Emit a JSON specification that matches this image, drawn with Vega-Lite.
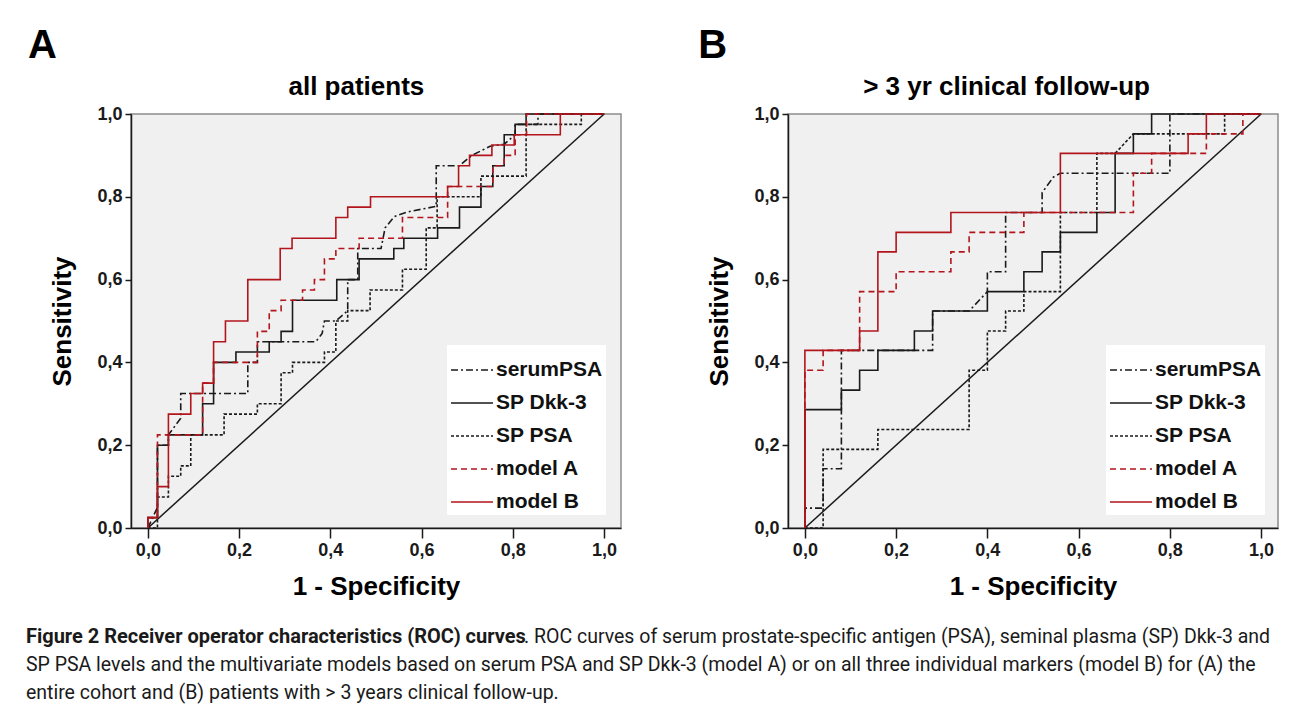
{
  "$schema": "https://vega.github.io/schema/vega-lite/v6.json",
  "background": "white",
  "padding": {"left": 25, "top": 25, "right": 5, "bottom": 2},
  "config": {
    "font": "Liberation Sans",
    "view": {"fill": "#f0f0f0", "stroke": "#8c8c8c", "strokeWidth": 1.5},
    "axis": {"domainColor": "#1a1a1a", "domainWidth": 1.5, "tickColor": "#1a1a1a", "tickWidth": 1.5, "grid": false, "labelFont": "Liberation Sans", "labelFontWeight": "bold", "labelFontSize": 18, "labelColor": "#1a1a1a", "titleFont": "Liberation Sans", "titleFontSize": 26, "titleFontWeight": "bold", "titleColor": "#000000"},
    "legend": {"orient": "none", "legendY": 231, "fillColor": "white", "padding": 3, "labelFont": "Liberation Sans", "labelFontSize": 21, "labelFontWeight": "bold", "labelColor": "#111111", "symbolType": "stroke", "symbolSize": 1764, "rowPadding": 1, "labelOffset": 2}
  },
  "datasets": {
    "rocA": [
      {"s":"serumPSA","i":0,"x":0,"y":0},{"s":"serumPSA","i":1,"x":0.021,"y":0.05},{"s":"serumPSA","i":2,"x":0.021,"y":0.2},{"s":"serumPSA","i":3,"x":0.045,"y":0.2},{"s":"serumPSA","i":4,"x":0.045,"y":0.225},{"s":"serumPSA","i":5,"x":0.072,"y":0.265},{"s":"serumPSA","i":6,"x":0.072,"y":0.325},{"s":"serumPSA","i":7,"x":0.219,"y":0.325},{"s":"serumPSA","i":8,"x":0.219,"y":0.4},{"s":"serumPSA","i":9,"x":0.24,"y":0.4},{"s":"serumPSA","i":10,"x":0.24,"y":0.45},{"s":"serumPSA","i":11,"x":0.368,"y":0.45},{"s":"serumPSA","i":12,"x":0.382,"y":0.47},{"s":"serumPSA","i":13,"x":0.387,"y":0.5},{"s":"serumPSA","i":14,"x":0.412,"y":0.5},{"s":"serumPSA","i":15,"x":0.438,"y":0.525},{"s":"serumPSA","i":16,"x":0.438,"y":0.6},{"s":"serumPSA","i":17,"x":0.46,"y":0.6},{"s":"serumPSA","i":18,"x":0.46,"y":0.675},{"s":"serumPSA","i":19,"x":0.511,"y":0.675},{"s":"serumPSA","i":20,"x":0.52,"y":0.725},{"s":"serumPSA","i":21,"x":0.54,"y":0.752},{"s":"serumPSA","i":22,"x":0.567,"y":0.763},{"s":"serumPSA","i":23,"x":0.632,"y":0.777},{"s":"serumPSA","i":24,"x":0.632,"y":0.875},{"s":"serumPSA","i":25,"x":0.683,"y":0.875},{"s":"serumPSA","i":26,"x":0.71,"y":0.9},{"s":"serumPSA","i":27,"x":0.75,"y":0.922},{"s":"serumPSA","i":28,"x":0.781,"y":0.927},{"s":"serumPSA","i":29,"x":0.805,"y":0.95},{"s":"serumPSA","i":30,"x":0.805,"y":0.975},{"s":"serumPSA","i":31,"x":0.855,"y":0.975},{"s":"serumPSA","i":32,"x":0.855,"y":1},{"s":"serumPSA","i":33,"x":1,"y":1},
      {"s":"SP Dkk-3","i":0,"x":0,"y":0},{"s":"SP Dkk-3","i":1,"x":0,"y":0.025},{"s":"SP Dkk-3","i":2,"x":0.021,"y":0.025},{"s":"SP Dkk-3","i":3,"x":0.021,"y":0.2},{"s":"SP Dkk-3","i":4,"x":0.045,"y":0.2},{"s":"SP Dkk-3","i":5,"x":0.045,"y":0.225},{"s":"SP Dkk-3","i":6,"x":0.12,"y":0.225},{"s":"SP Dkk-3","i":7,"x":0.12,"y":0.3},{"s":"SP Dkk-3","i":8,"x":0.144,"y":0.3},{"s":"SP Dkk-3","i":9,"x":0.144,"y":0.4},{"s":"SP Dkk-3","i":10,"x":0.193,"y":0.4},{"s":"SP Dkk-3","i":11,"x":0.193,"y":0.425},{"s":"SP Dkk-3","i":12,"x":0.266,"y":0.425},{"s":"SP Dkk-3","i":13,"x":0.266,"y":0.45},{"s":"SP Dkk-3","i":14,"x":0.292,"y":0.45},{"s":"SP Dkk-3","i":15,"x":0.292,"y":0.475},{"s":"SP Dkk-3","i":16,"x":0.317,"y":0.475},{"s":"SP Dkk-3","i":17,"x":0.317,"y":0.55},{"s":"SP Dkk-3","i":18,"x":0.414,"y":0.55},{"s":"SP Dkk-3","i":19,"x":0.414,"y":0.6},{"s":"SP Dkk-3","i":20,"x":0.463,"y":0.6},{"s":"SP Dkk-3","i":21,"x":0.463,"y":0.65},{"s":"SP Dkk-3","i":22,"x":0.539,"y":0.65},{"s":"SP Dkk-3","i":23,"x":0.539,"y":0.675},{"s":"SP Dkk-3","i":24,"x":0.561,"y":0.675},{"s":"SP Dkk-3","i":25,"x":0.561,"y":0.7},{"s":"SP Dkk-3","i":26,"x":0.635,"y":0.7},{"s":"SP Dkk-3","i":27,"x":0.635,"y":0.725},{"s":"SP Dkk-3","i":28,"x":0.683,"y":0.725},{"s":"SP Dkk-3","i":29,"x":0.683,"y":0.775},{"s":"SP Dkk-3","i":30,"x":0.73,"y":0.775},{"s":"SP Dkk-3","i":31,"x":0.73,"y":0.825},{"s":"SP Dkk-3","i":32,"x":0.756,"y":0.825},{"s":"SP Dkk-3","i":33,"x":0.756,"y":0.875},{"s":"SP Dkk-3","i":34,"x":0.781,"y":0.875},{"s":"SP Dkk-3","i":35,"x":0.781,"y":0.95},{"s":"SP Dkk-3","i":36,"x":0.805,"y":0.95},{"s":"SP Dkk-3","i":37,"x":0.805,"y":0.975},{"s":"SP Dkk-3","i":38,"x":0.829,"y":0.975},{"s":"SP Dkk-3","i":39,"x":0.829,"y":1},{"s":"SP Dkk-3","i":40,"x":1,"y":1},
      {"s":"SP PSA","i":0,"x":0,"y":0},{"s":"SP PSA","i":1,"x":0.021,"y":0},{"s":"SP PSA","i":2,"x":0.021,"y":0.075},{"s":"SP PSA","i":3,"x":0.045,"y":0.075},{"s":"SP PSA","i":4,"x":0.045,"y":0.125},{"s":"SP PSA","i":5,"x":0.072,"y":0.125},{"s":"SP PSA","i":6,"x":0.072,"y":0.15},{"s":"SP PSA","i":7,"x":0.094,"y":0.15},{"s":"SP PSA","i":8,"x":0.094,"y":0.225},{"s":"SP PSA","i":9,"x":0.167,"y":0.225},{"s":"SP PSA","i":10,"x":0.167,"y":0.275},{"s":"SP PSA","i":11,"x":0.24,"y":0.275},{"s":"SP PSA","i":12,"x":0.24,"y":0.3},{"s":"SP PSA","i":13,"x":0.292,"y":0.3},{"s":"SP PSA","i":14,"x":0.292,"y":0.375},{"s":"SP PSA","i":15,"x":0.317,"y":0.375},{"s":"SP PSA","i":16,"x":0.317,"y":0.4},{"s":"SP PSA","i":17,"x":0.387,"y":0.4},{"s":"SP PSA","i":18,"x":0.387,"y":0.425},{"s":"SP PSA","i":19,"x":0.412,"y":0.425},{"s":"SP PSA","i":20,"x":0.412,"y":0.5},{"s":"SP PSA","i":21,"x":0.438,"y":0.5},{"s":"SP PSA","i":22,"x":0.438,"y":0.525},{"s":"SP PSA","i":23,"x":0.487,"y":0.525},{"s":"SP PSA","i":24,"x":0.487,"y":0.575},{"s":"SP PSA","i":25,"x":0.558,"y":0.575},{"s":"SP PSA","i":26,"x":0.558,"y":0.625},{"s":"SP PSA","i":27,"x":0.61,"y":0.625},{"s":"SP PSA","i":28,"x":0.61,"y":0.725},{"s":"SP PSA","i":29,"x":0.634,"y":0.725},{"s":"SP PSA","i":30,"x":0.634,"y":0.8},{"s":"SP PSA","i":31,"x":0.73,"y":0.8},{"s":"SP PSA","i":32,"x":0.73,"y":0.85},{"s":"SP PSA","i":33,"x":0.829,"y":0.85},{"s":"SP PSA","i":34,"x":0.829,"y":0.975},{"s":"SP PSA","i":35,"x":0.95,"y":0.975},{"s":"SP PSA","i":36,"x":0.95,"y":1},{"s":"SP PSA","i":37,"x":1,"y":1},
      {"s":"model A","i":0,"x":0,"y":0},{"s":"model A","i":1,"x":0,"y":0.025},{"s":"model A","i":2,"x":0.021,"y":0.025},{"s":"model A","i":3,"x":0.021,"y":0.225},{"s":"model A","i":4,"x":0.12,"y":0.225},{"s":"model A","i":5,"x":0.12,"y":0.35},{"s":"model A","i":6,"x":0.144,"y":0.35},{"s":"model A","i":7,"x":0.144,"y":0.4},{"s":"model A","i":8,"x":0.24,"y":0.4},{"s":"model A","i":9,"x":0.24,"y":0.475},{"s":"model A","i":10,"x":0.266,"y":0.475},{"s":"model A","i":11,"x":0.266,"y":0.525},{"s":"model A","i":12,"x":0.292,"y":0.525},{"s":"model A","i":13,"x":0.292,"y":0.55},{"s":"model A","i":14,"x":0.339,"y":0.55},{"s":"model A","i":15,"x":0.339,"y":0.575},{"s":"model A","i":16,"x":0.365,"y":0.575},{"s":"model A","i":17,"x":0.365,"y":0.6},{"s":"model A","i":18,"x":0.387,"y":0.6},{"s":"model A","i":19,"x":0.387,"y":0.65},{"s":"model A","i":20,"x":0.412,"y":0.65},{"s":"model A","i":21,"x":0.412,"y":0.675},{"s":"model A","i":22,"x":0.463,"y":0.675},{"s":"model A","i":23,"x":0.463,"y":0.7},{"s":"model A","i":24,"x":0.558,"y":0.7},{"s":"model A","i":25,"x":0.558,"y":0.75},{"s":"model A","i":26,"x":0.657,"y":0.75},{"s":"model A","i":27,"x":0.657,"y":0.825},{"s":"model A","i":28,"x":0.756,"y":0.825},{"s":"model A","i":29,"x":0.756,"y":0.875},{"s":"model A","i":30,"x":0.781,"y":0.875},{"s":"model A","i":31,"x":0.781,"y":0.9},{"s":"model A","i":32,"x":0.805,"y":0.9},{"s":"model A","i":33,"x":0.805,"y":0.95},{"s":"model A","i":34,"x":0.83,"y":0.95},{"s":"model A","i":35,"x":0.83,"y":1},{"s":"model A","i":36,"x":1,"y":1},
      {"s":"model B","i":0,"x":0,"y":0},{"s":"model B","i":1,"x":0,"y":0.025},{"s":"model B","i":2,"x":0.021,"y":0.025},{"s":"model B","i":3,"x":0.021,"y":0.1},{"s":"model B","i":4,"x":0.045,"y":0.1},{"s":"model B","i":5,"x":0.045,"y":0.275},{"s":"model B","i":6,"x":0.094,"y":0.275},{"s":"model B","i":7,"x":0.094,"y":0.325},{"s":"model B","i":8,"x":0.12,"y":0.325},{"s":"model B","i":9,"x":0.12,"y":0.35},{"s":"model B","i":10,"x":0.144,"y":0.35},{"s":"model B","i":11,"x":0.144,"y":0.45},{"s":"model B","i":12,"x":0.17,"y":0.45},{"s":"model B","i":13,"x":0.17,"y":0.5},{"s":"model B","i":14,"x":0.219,"y":0.5},{"s":"model B","i":15,"x":0.219,"y":0.6},{"s":"model B","i":16,"x":0.29,"y":0.6},{"s":"model B","i":17,"x":0.29,"y":0.675},{"s":"model B","i":18,"x":0.316,"y":0.675},{"s":"model B","i":19,"x":0.316,"y":0.7},{"s":"model B","i":20,"x":0.412,"y":0.7},{"s":"model B","i":21,"x":0.412,"y":0.75},{"s":"model B","i":22,"x":0.438,"y":0.75},{"s":"model B","i":23,"x":0.438,"y":0.775},{"s":"model B","i":24,"x":0.488,"y":0.775},{"s":"model B","i":25,"x":0.488,"y":0.8},{"s":"model B","i":26,"x":0.657,"y":0.8},{"s":"model B","i":27,"x":0.657,"y":0.825},{"s":"model B","i":28,"x":0.681,"y":0.825},{"s":"model B","i":29,"x":0.681,"y":0.875},{"s":"model B","i":30,"x":0.705,"y":0.875},{"s":"model B","i":31,"x":0.705,"y":0.9},{"s":"model B","i":32,"x":0.754,"y":0.9},{"s":"model B","i":33,"x":0.754,"y":0.925},{"s":"model B","i":34,"x":0.803,"y":0.925},{"s":"model B","i":35,"x":0.803,"y":0.95},{"s":"model B","i":36,"x":0.904,"y":0.95},{"s":"model B","i":37,"x":0.904,"y":1},{"s":"model B","i":38,"x":1,"y":1}
    ],
    "rocB": [
      {"s":"serumPSA","i":0,"x":0,"y":0},{"s":"serumPSA","i":1,"x":0,"y":0.048},{"s":"serumPSA","i":2,"x":0.04,"y":0.048},{"s":"serumPSA","i":3,"x":0.04,"y":0.143},{"s":"serumPSA","i":4,"x":0.08,"y":0.143},{"s":"serumPSA","i":5,"x":0.08,"y":0.429},{"s":"serumPSA","i":6,"x":0.28,"y":0.429},{"s":"serumPSA","i":7,"x":0.28,"y":0.524},{"s":"serumPSA","i":8,"x":0.36,"y":0.524},{"s":"serumPSA","i":9,"x":0.4,"y":0.571},{"s":"serumPSA","i":10,"x":0.4,"y":0.619},{"s":"serumPSA","i":11,"x":0.44,"y":0.619},{"s":"serumPSA","i":12,"x":0.44,"y":0.762},{"s":"serumPSA","i":13,"x":0.52,"y":0.762},{"s":"serumPSA","i":14,"x":0.52,"y":0.81},{"s":"serumPSA","i":15,"x":0.545,"y":0.848},{"s":"serumPSA","i":16,"x":0.56,"y":0.857},{"s":"serumPSA","i":17,"x":0.8,"y":0.857},{"s":"serumPSA","i":18,"x":0.8,"y":1},{"s":"serumPSA","i":19,"x":1,"y":1},
      {"s":"SP Dkk-3","i":0,"x":0,"y":0},{"s":"SP Dkk-3","i":1,"x":0,"y":0.286},{"s":"SP Dkk-3","i":2,"x":0.08,"y":0.286},{"s":"SP Dkk-3","i":3,"x":0.08,"y":0.333},{"s":"SP Dkk-3","i":4,"x":0.12,"y":0.333},{"s":"SP Dkk-3","i":5,"x":0.12,"y":0.381},{"s":"SP Dkk-3","i":6,"x":0.16,"y":0.381},{"s":"SP Dkk-3","i":7,"x":0.16,"y":0.429},{"s":"SP Dkk-3","i":8,"x":0.24,"y":0.429},{"s":"SP Dkk-3","i":9,"x":0.24,"y":0.476},{"s":"SP Dkk-3","i":10,"x":0.28,"y":0.476},{"s":"SP Dkk-3","i":11,"x":0.28,"y":0.524},{"s":"SP Dkk-3","i":12,"x":0.4,"y":0.524},{"s":"SP Dkk-3","i":13,"x":0.4,"y":0.571},{"s":"SP Dkk-3","i":14,"x":0.48,"y":0.571},{"s":"SP Dkk-3","i":15,"x":0.48,"y":0.619},{"s":"SP Dkk-3","i":16,"x":0.52,"y":0.619},{"s":"SP Dkk-3","i":17,"x":0.52,"y":0.667},{"s":"SP Dkk-3","i":18,"x":0.56,"y":0.667},{"s":"SP Dkk-3","i":19,"x":0.56,"y":0.714},{"s":"SP Dkk-3","i":20,"x":0.64,"y":0.714},{"s":"SP Dkk-3","i":21,"x":0.64,"y":0.762},{"s":"SP Dkk-3","i":22,"x":0.68,"y":0.762},{"s":"SP Dkk-3","i":23,"x":0.68,"y":0.905},{"s":"SP Dkk-3","i":24,"x":0.72,"y":0.905},{"s":"SP Dkk-3","i":25,"x":0.72,"y":0.952},{"s":"SP Dkk-3","i":26,"x":0.76,"y":0.952},{"s":"SP Dkk-3","i":27,"x":0.76,"y":1},{"s":"SP Dkk-3","i":28,"x":1,"y":1},
      {"s":"SP PSA","i":0,"x":0,"y":0},{"s":"SP PSA","i":1,"x":0.04,"y":0},{"s":"SP PSA","i":2,"x":0.04,"y":0.19},{"s":"SP PSA","i":3,"x":0.16,"y":0.19},{"s":"SP PSA","i":4,"x":0.16,"y":0.238},{"s":"SP PSA","i":5,"x":0.36,"y":0.238},{"s":"SP PSA","i":6,"x":0.36,"y":0.381},{"s":"SP PSA","i":7,"x":0.4,"y":0.381},{"s":"SP PSA","i":8,"x":0.4,"y":0.476},{"s":"SP PSA","i":9,"x":0.44,"y":0.476},{"s":"SP PSA","i":10,"x":0.44,"y":0.524},{"s":"SP PSA","i":11,"x":0.48,"y":0.524},{"s":"SP PSA","i":12,"x":0.48,"y":0.571},{"s":"SP PSA","i":13,"x":0.56,"y":0.571},{"s":"SP PSA","i":14,"x":0.56,"y":0.762},{"s":"SP PSA","i":15,"x":0.64,"y":0.762},{"s":"SP PSA","i":16,"x":0.64,"y":0.905},{"s":"SP PSA","i":17,"x":0.68,"y":0.905},{"s":"SP PSA","i":18,"x":0.72,"y":0.952},{"s":"SP PSA","i":19,"x":0.92,"y":0.952},{"s":"SP PSA","i":20,"x":0.92,"y":1},{"s":"SP PSA","i":21,"x":1,"y":1},
      {"s":"model A","i":0,"x":0,"y":0},{"s":"model A","i":1,"x":0,"y":0.381},{"s":"model A","i":2,"x":0.04,"y":0.381},{"s":"model A","i":3,"x":0.04,"y":0.429},{"s":"model A","i":4,"x":0.12,"y":0.429},{"s":"model A","i":5,"x":0.12,"y":0.571},{"s":"model A","i":6,"x":0.2,"y":0.571},{"s":"model A","i":7,"x":0.2,"y":0.619},{"s":"model A","i":8,"x":0.32,"y":0.619},{"s":"model A","i":9,"x":0.32,"y":0.667},{"s":"model A","i":10,"x":0.36,"y":0.667},{"s":"model A","i":11,"x":0.36,"y":0.714},{"s":"model A","i":12,"x":0.48,"y":0.714},{"s":"model A","i":13,"x":0.48,"y":0.762},{"s":"model A","i":14,"x":0.72,"y":0.762},{"s":"model A","i":15,"x":0.72,"y":0.857},{"s":"model A","i":16,"x":0.76,"y":0.857},{"s":"model A","i":17,"x":0.76,"y":0.905},{"s":"model A","i":18,"x":0.88,"y":0.905},{"s":"model A","i":19,"x":0.88,"y":0.952},{"s":"model A","i":20,"x":0.96,"y":0.952},{"s":"model A","i":21,"x":0.96,"y":1},{"s":"model A","i":22,"x":1,"y":1},
      {"s":"model B","i":0,"x":0,"y":0},{"s":"model B","i":1,"x":0,"y":0.429},{"s":"model B","i":2,"x":0.12,"y":0.429},{"s":"model B","i":3,"x":0.12,"y":0.476},{"s":"model B","i":4,"x":0.16,"y":0.476},{"s":"model B","i":5,"x":0.16,"y":0.667},{"s":"model B","i":6,"x":0.2,"y":0.667},{"s":"model B","i":7,"x":0.2,"y":0.714},{"s":"model B","i":8,"x":0.32,"y":0.714},{"s":"model B","i":9,"x":0.32,"y":0.762},{"s":"model B","i":10,"x":0.56,"y":0.762},{"s":"model B","i":11,"x":0.56,"y":0.905},{"s":"model B","i":12,"x":0.84,"y":0.905},{"s":"model B","i":13,"x":0.84,"y":0.952},{"s":"model B","i":14,"x":0.88,"y":0.952},{"s":"model B","i":15,"x":0.88,"y":1},{"s":"model B","i":16,"x":1,"y":1}
    ],
    "cap": [
      {"line": 1, "part": "b", "text": "Figure 2 Receiver operator characteristics (ROC) curves"},
      {"line": 1, "part": "n1", "text": ". ROC curves of serum prostate-specific antigen (PSA), seminal plasma (SP) Dkk-3 and"},
      {"line": 2, "part": "n", "text": "SP PSA levels and the multivariate models based on serum PSA and SP Dkk-3 (model A) or on all three individual markers (model B) for (A) the"},
      {"line": 3, "part": "n", "text": "entire cohort and (B) patients with > 3 years clinical follow-up."}
    ]
  },
  "spacing": 27,
  "vconcat": [
    {
      "spacing": 75,
      "resolve": {"legend": {"color": "independent", "strokeDash": "independent", "strokeWidth": "independent"}},
      "hconcat": [
        {
          "width": 490, "height": 414,
          "layer": [
            {
              "data": {"values": [{"x0": 0, "y0": 0, "x1": 1, "y1": 1}]},
              "mark": {"type": "rule", "color": "#1a1a1a", "strokeWidth": 1.5},
              "encoding": {
                "x": {"field": "x0", "type": "quantitative", "scale": {"domain": [-0.037, 1.037], "nice": false, "zero": false}},
                "y": {"field": "y0", "type": "quantitative", "scale": {"domain": [0, 1], "nice": false}},
                "x2": {"field": "x1"}, "y2": {"field": "y1"}
              }
            },
            {
              "data": {"name": "rocA"},
              "mark": {"type": "line", "strokeCap": "butt"},
              "encoding": {
                "x": {"field": "x", "type": "quantitative", "scale": {"domain": [-0.037, 1.037], "nice": false, "zero": false},
                      "axis": {"values": [0, 0.2, 0.4, 0.6, 0.8, 1], "labelExpr": "replace(format(datum.value, '.1f'), '.', ',')", "title": "1 - Specificity", "tickSize": 10, "labelPadding": 3, "titlePadding": 14}},
                "y": {"field": "y", "type": "quantitative", "scale": {"domain": [0, 1], "nice": false},
                      "axis": {"values": [0, 0.2, 0.4, 0.6, 0.8, 1], "labelExpr": "replace(format(datum.value, '.1f'), '.', ',')", "title": "Sensitivity", "tickSize": 6, "labelPadding": 3, "titlePadding": 21}},
                "order": {"field": "i", "type": "quantitative"},
                "color": {"field": "s", "type": "nominal", "scale": {"domain": ["serumPSA", "SP Dkk-3", "SP PSA", "model A", "model B"], "range": ["#1a1a1a", "#1a1a1a", "#1a1a1a", "#b3151d", "#b3151d"]}, "legend": {"title": null, "legendX": 316}},
                "strokeDash": {"field": "s", "type": "nominal", "scale": {"domain": ["serumPSA", "SP Dkk-3", "SP PSA", "model A", "model B"], "range": [[7, 3, 2, 3], [1, 0], [3, 2], [6, 4], [1, 0]]}, "legend": {"title": null, "legendX": 316}},
                "strokeWidth": {"field": "s", "type": "ordinal", "scale": {"domain": ["serumPSA", "SP Dkk-3", "SP PSA", "model A", "model B"], "range": [1.6, 1.6, 1.6, 2.4, 2.4]}, "legend": {"title": null, "legendX": 316}}
              }
            },
            {
              "data": {"values": [{"label": "A"}]},
              "mark": {"type": "text", "fontSize": 40, "fontWeight": "bold", "align": "center", "baseline": "alphabetic", "color": "#000000"},
              "encoding": {"text": {"field": "label"}, "x": {"datum": -0.231}, "y": {"datum": 1.135}}
            },
            {
              "data": {"values": [{"label": "all patients"}]},
              "mark": {"type": "text", "fontSize": 26, "fontWeight": "bold", "align": "center", "baseline": "alphabetic", "color": "#000000"},
              "encoding": {"text": {"field": "label"}, "x": {"datum": 0.457}, "y": {"datum": 1.047}}
            }
          ]
        },
        {
          "width": 490, "height": 414,
          "layer": [
            {
              "data": {"values": [{"x0": 0, "y0": 0, "x1": 1, "y1": 1}]},
              "mark": {"type": "rule", "color": "#1a1a1a", "strokeWidth": 1.5},
              "encoding": {
                "x": {"field": "x0", "type": "quantitative", "scale": {"domain": [-0.037, 1.037], "nice": false, "zero": false}},
                "y": {"field": "y0", "type": "quantitative", "scale": {"domain": [0, 1], "nice": false}},
                "x2": {"field": "x1"}, "y2": {"field": "y1"}
              }
            },
            {
              "data": {"name": "rocB"},
              "mark": {"type": "line", "strokeCap": "butt"},
              "encoding": {
                "x": {"field": "x", "type": "quantitative", "scale": {"domain": [-0.037, 1.037], "nice": false, "zero": false},
                      "axis": {"values": [0, 0.2, 0.4, 0.6, 0.8, 1], "labelExpr": "replace(format(datum.value, '.1f'), '.', ',')", "title": "1 - Specificity", "tickSize": 10, "labelPadding": 3, "titlePadding": 14}},
                "y": {"field": "y", "type": "quantitative", "scale": {"domain": [0, 1], "nice": false},
                      "axis": {"values": [0, 0.2, 0.4, 0.6, 0.8, 1], "labelExpr": "replace(format(datum.value, '.1f'), '.', ',')", "title": "Sensitivity", "tickSize": 6, "labelPadding": 3, "titlePadding": 21}},
                "order": {"field": "i", "type": "quantitative"},
                "color": {"field": "s", "type": "nominal", "scale": {"domain": ["serumPSA", "SP Dkk-3", "SP PSA", "model A", "model B"], "range": ["#1a1a1a", "#1a1a1a", "#1a1a1a", "#b3151d", "#b3151d"]}, "legend": {"title": null, "legendX": 318}},
                "strokeDash": {"field": "s", "type": "nominal", "scale": {"domain": ["serumPSA", "SP Dkk-3", "SP PSA", "model A", "model B"], "range": [[7, 3, 2, 3], [1, 0], [3, 2], [6, 4], [1, 0]]}, "legend": {"title": null, "legendX": 318}},
                "strokeWidth": {"field": "s", "type": "ordinal", "scale": {"domain": ["serumPSA", "SP Dkk-3", "SP PSA", "model A", "model B"], "range": [1.6, 1.6, 1.6, 2.4, 2.4]}, "legend": {"title": null, "legendX": 318}}
              }
            },
            {
              "data": {"values": [{"label": "B"}]},
              "mark": {"type": "text", "fontSize": 40, "fontWeight": "bold", "align": "center", "baseline": "alphabetic", "color": "#000000"},
              "encoding": {"text": {"field": "label"}, "x": {"datum": -0.202}, "y": {"datum": 1.135}}
            },
            {
              "data": {"values": [{"label": "> 3 yr clinical follow-up"}]},
              "mark": {"type": "text", "fontSize": 26, "fontWeight": "bold", "align": "center", "baseline": "alphabetic", "color": "#000000"},
              "encoding": {"text": {"field": "label"}, "x": {"datum": 0.442}, "y": {"datum": 1.047}}
            }
          ]
        }
      ]
    },
    {
      "width": 1243, "height": 56,
      "data": {"name": "cap"},
      "view": {"stroke": null, "fill": null},
      "layer": [
        {
          "transform": [{"filter": "datum.part == 'b'"}],
          "mark": {"type": "text", "align": "left", "baseline": "middle", "fontWeight": "bold", "fontSize": 20, "font": "Roboto", "color": "#1a1a1a"},
          "encoding": {
            "text": {"field": "text"},
            "y": {"field": "line", "type": "ordinal", "axis": null, "scale": {"domain": [1, 2, 3], "padding": 0}},
            "x": {"datum": -0.0845, "type": "quantitative", "scale": {"domain": [0, 1]}, "axis": null}
          }
        },
        {
          "transform": [{"filter": "datum.part == 'n1'"}],
          "mark": {"type": "text", "align": "left", "baseline": "middle", "fontSize": 19.5, "font": "Roboto", "color": "#1a1a1a"},
          "encoding": {
            "text": {"field": "text"},
            "y": {"field": "line", "type": "ordinal", "axis": null, "scale": {"domain": [1, 2, 3], "padding": 0}},
            "x": {"datum": 0.3162, "type": "quantitative", "scale": {"domain": [0, 1]}, "axis": null}
          }
        },
        {
          "transform": [{"filter": "datum.part == 'n'"}],
          "mark": {"type": "text", "align": "left", "baseline": "middle", "fontSize": 19.5, "font": "Roboto", "color": "#1a1a1a"},
          "encoding": {
            "text": {"field": "text"},
            "y": {"field": "line", "type": "ordinal", "axis": null, "scale": {"domain": [1, 2, 3], "padding": 0}},
            "x": {"datum": -0.0845, "type": "quantitative", "scale": {"domain": [0, 1]}, "axis": null}
          }
        }
      ]
    }
  ]
}
